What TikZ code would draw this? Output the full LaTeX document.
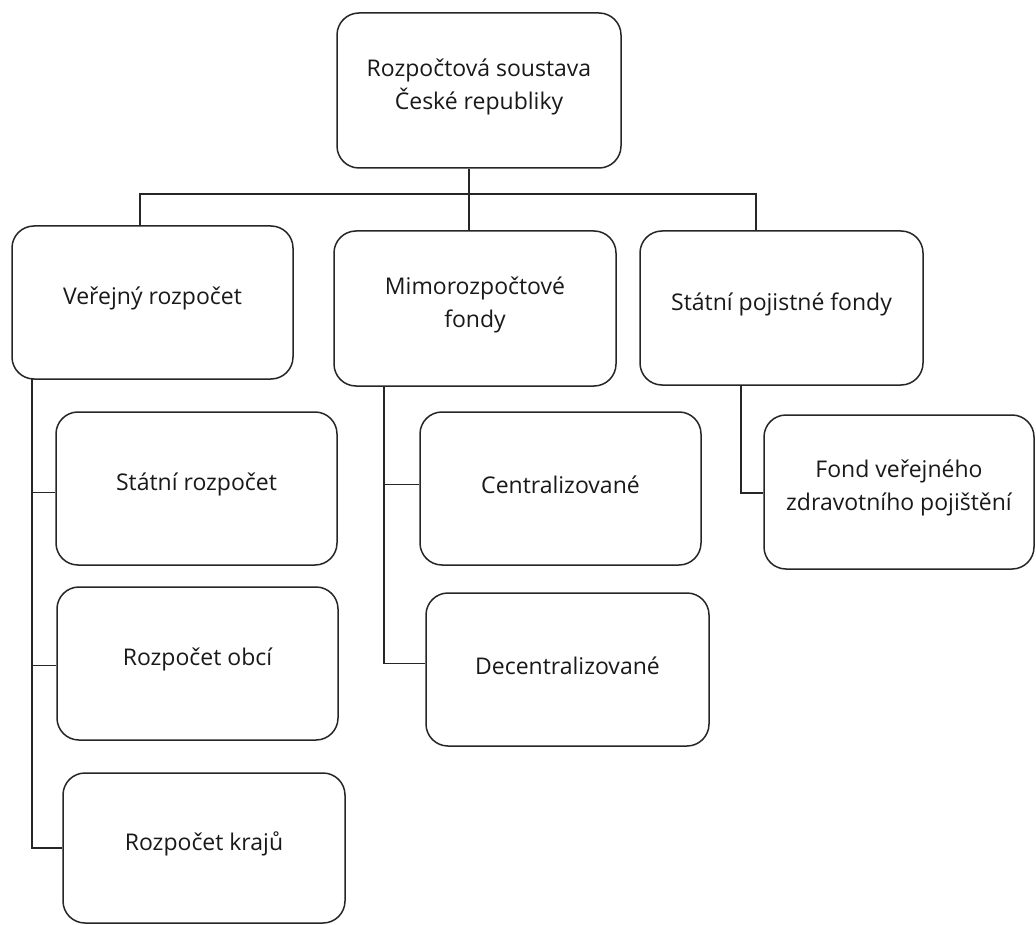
\documentclass[tikz,border=0pt]{standalone}
\usepackage{fontspec}
\setmainfont{Open Sans}
\begin{document}
\begin{tikzpicture}[x=1pt,y=-1pt,
  bx/.style={draw=black!85, line width=1.5pt, rounded corners=22pt, inner sep=0pt, fill=white},
  txt/.style={font=\fontsize{23}{33}\selectfont, align=center, text=black!90, yshift=4pt},
  conn/.style={draw=black!85, line width=1.5pt}]
\useasboundingbox (0,0) rectangle (1036,925);
\fill[white] (0,0) rectangle (1036,925);
% level 0
\node[bx, minimum width=284pt, minimum height=155pt, label={[txt]center:{Rozpočtová soustava\\České republiky}}] (top) at (479,90.5) {};
% level 1
\node[bx, minimum width=281pt, minimum height=153pt, label={[txt]center:Veřejný rozpočet}] (b1) at (152.5,302.5) {};
\node[bx, minimum width=282pt, minimum height=155pt, label={[txt]center:{Mimorozpočtové\\fondy}}] (b2) at (475,308.5) {};
\node[bx, minimum width=283pt, minimum height=154pt, label={[txt]center:Státní pojistné fondy}] (b3) at (781.5,308) {};
% level 2
\node[bx, minimum width=281pt, minimum height=153pt, label={[txt]center:Státní rozpočet}] (s1) at (196.5,488.5) {};
\node[bx, minimum width=281pt, minimum height=153pt, label={[txt]center:Rozpočet obcí}] (s2) at (197.5,663.5) {};
\node[bx, minimum width=282pt, minimum height=150pt, label={[txt]center:Rozpočet krajů}] (s3) at (204,848) {};
\node[bx, minimum width=281pt, minimum height=153pt, label={[txt]center:Centralizované}] (c1) at (560.5,488.5) {};
\node[bx, minimum width=283pt, minimum height=153pt, label={[txt]center:Decentralizované}] (c2) at (567.5,669.5) {};
\node[bx, minimum width=270pt, minimum height=154pt, label={[txt]center:{Fond veřejného\\zdravotního pojištění}}] (f) at (899,492) {};
% connectors level 0 -> 1
\coordinate (hub) at (469,194);
\draw[conn] (top.south -| hub) -- (b2.north -| hub);
\draw[conn] (b1.north -| 140,0) |- (hub) -| (b3.north -| 756,0);
% column 1
\coordinate (v1) at (32,379);
\draw[conn] (v1) |- ([yshift=-4pt]s1.west);
\draw[conn] (v1) |- ([yshift=-2pt]s2.west);
\draw[conn] (v1) |- (s3.west);
% column 2
\coordinate (v2) at (384,386);
\draw[conn] (v2) |- ([yshift=4pt]c1.west);
\draw[conn] (v2) |- ([yshift=6pt]c2.west);
% column 3
\coordinate (v3) at (741,385);
\draw[conn] (v3) |- ([yshift=-1pt]f.west);
\end{tikzpicture}
\end{document}
